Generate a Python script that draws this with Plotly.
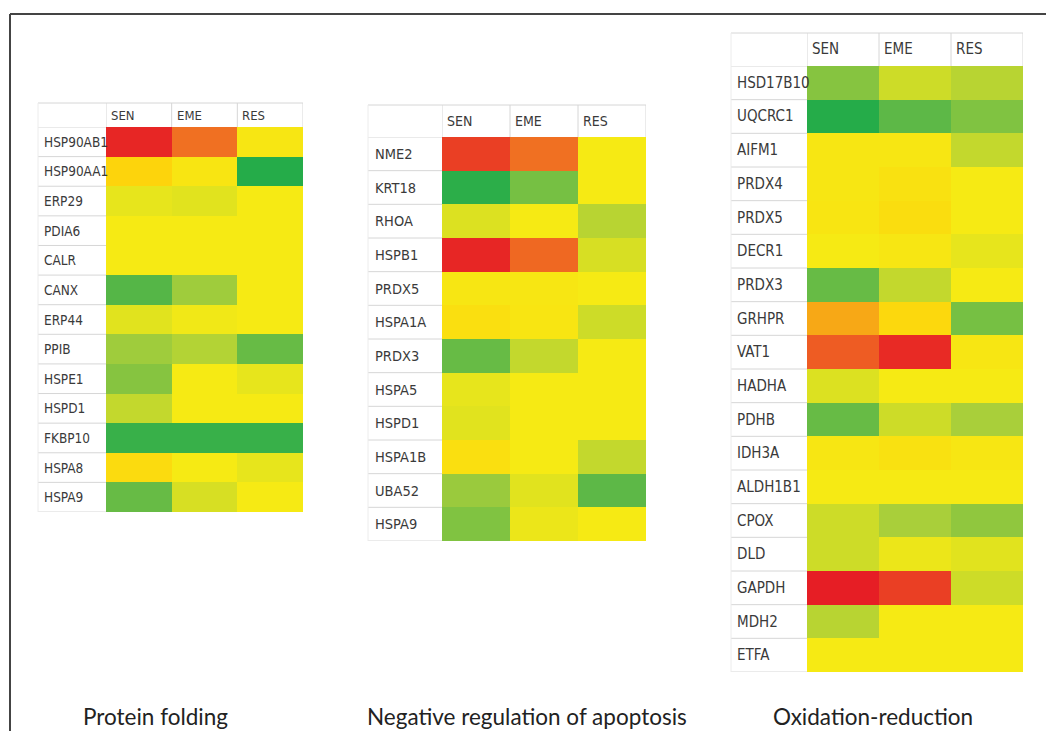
import plotly.graph_objects as go

# Canvas size in pixels
W, H = 1046, 731

# Expression columns
conditions = ["SEN", "EME", "RES"]

# Protein folding
pf_genes = ["HSP90AB1", "HSP90AA1", "ERP29", "PDIA6", "CALR", "CANX", "ERP44",
            "PPIB", "HSPE1", "HSPD1", "FKBP10", "HSPA8", "HSPA9"]
pf_values = [
    [0.98, 0.80, 0.52],
    [0.62, 0.53, 0.05],
    [0.47, 0.46, 0.50],
    [0.50, 0.50, 0.50],
    [0.50, 0.50, 0.50],
    [0.18, 0.33, 0.50],
    [0.46, 0.49, 0.50],
    [0.33, 0.37, 0.22],
    [0.28, 0.50, 0.47],
    [0.40, 0.50, 0.50],
    [0.10, 0.10, 0.10],
    [0.58, 0.50, 0.47],
    [0.22, 0.44, 0.50],
]

# Negative regulation of apoptosis
nra_genes = ["NME2", "KRT18", "RHOA", "HSPB1", "PRDX5", "HSPA1A", "PRDX3",
             "HSPA5", "HSPD1", "HSPA1B", "UBA52", "HSPA9"]
nra_values = [
    [0.92, 0.80, 0.50],
    [0.07, 0.25, 0.50],
    [0.45, 0.50, 0.38],
    [0.98, 0.82, 0.44],
    [0.52, 0.52, 0.50],
    [0.56, 0.53, 0.42],
    [0.22, 0.40, 0.50],
    [0.47, 0.50, 0.50],
    [0.46, 0.50, 0.50],
    [0.56, 0.50, 0.40],
    [0.32, 0.46, 0.20],
    [0.27, 0.48, 0.50],
]

# Oxidation-reduction
ox_genes = ["HSD17B10", "UQCRC1", "AIFM1", "PRDX4", "PRDX5", "DECR1", "PRDX3",
            "GRHPR", "VAT1", "HADHA", "PDHB", "IDH3A", "ALDH1B1", "CPOX", "DLD",
            "GAPDH", "MDH2", "ETFA"]
ox_values = [
    [0.28, 0.42, 0.38],
    [0.05, 0.20, 0.27],
    [0.52, 0.52, 0.40],
    [0.52, 0.55, 0.50],
    [0.53, 0.57, 0.50],
    [0.50, 0.52, 0.47],
    [0.22, 0.40, 0.50],
    [0.70, 0.60, 0.25],
    [0.85, 0.97, 0.52],
    [0.45, 0.50, 0.50],
    [0.22, 0.42, 0.35],
    [0.52, 0.55, 0.52],
    [0.50, 0.50, 0.50],
    [0.42, 0.35, 0.30],
    [0.42, 0.48, 0.46],
    [1.00, 0.92, 0.42],
    [0.38, 0.50, 0.50],
    [0.50, 0.50, 0.50],
]

panel_titles = ["Protein folding", "Negative regulation of apoptosis", "Oxidation-reduction"]

# Green -> yellow -> red
colorscale = [
    [0.00, "#12A84A"],
    [0.20, "#5DB847"],
    [0.35, "#A9CF3A"],
    [0.50, "#F6EA14"],
    [0.62, "#FDD40C"],
    [0.80, "#F07022"],
    [1.00, "#E61E25"],
]

# Table geometry in pixels
panels = [
    dict(genes=pf_genes, values=pf_values, title=panel_titles[0],
         left=38, label_x=42, cell_l=106, cell_r=303, head_t=103, cell_t=127, cell_b=512,
         title_x=155, fsize=13.5, hsize=13),
    dict(genes=nra_genes, values=nra_values, title=panel_titles[1],
         left=368, label_x=373, cell_l=442, cell_r=646, head_t=105, cell_t=137, cell_b=541,
         title_x=527, fsize=14.5, hsize=14),
    dict(genes=ox_genes, values=ox_values, title=panel_titles[2],
         left=731, label_x=735, cell_l=807, cell_r=1023, head_t=33, cell_t=66, cell_b=672,
         title_x=873, fsize=15, hsize=15),
]


def px(x):
    return x / W


def py(y):
    return 1 - y / H


LABEL_FONT = "Liberation Sans Narrow, Arial Narrow, DejaVu Sans Condensed, sans-serif"
GRID = "#d6d6d6"

fig = go.Figure()
shapes = []
annotations = []

for i, p in enumerate(panels, start=1):
    sfx = "" if i == 1 else str(i)
    xa, ya = "x" + sfx, "y" + sfx
    n = len(p["genes"])

    fig.add_trace(go.Heatmap(
        z=p["values"], x=conditions, y=p["genes"],
        colorscale=colorscale, zmin=0, zmax=1, showscale=False,
        xaxis=xa, yaxis=ya, hoverinfo="x+y+z",
    ))

    fig.update_layout(**{
        "xaxis" + sfx: dict(domain=[px(p["cell_l"]), px(p["cell_r"])],
                            range=[-0.5, 2.5], visible=False, anchor=ya, fixedrange=True),
        "yaxis" + sfx: dict(domain=[py(p["cell_b"]), py(p["cell_t"])],
                            range=[n - 0.5, -0.5], visible=False, anchor=xa, fixedrange=True),
    })

    # Row separators in the label column
    for r in range(n + 1):
        shapes.append(dict(type="line", xref="paper", yref=ya,
                           x0=px(p["left"]), x1=px(p["cell_l"]),
                           y0=r - 0.5, y1=r - 0.5,
                           line=dict(color=GRID, width=1)))
    # Header outline and column dividers
    shapes.append(dict(type="line", xref="paper", yref="paper",
                       x0=px(p["left"]), x1=px(p["cell_r"]),
                       y0=py(p["head_t"]), y1=py(p["head_t"]),
                       line=dict(color=GRID, width=1)))
    for c in range(4):
        shapes.append(dict(type="line", xref=xa, yref="paper",
                           x0=c - 0.5, x1=c - 0.5,
                           y0=py(p["head_t"]), y1=py(p["cell_t"]),
                           line=dict(color=GRID, width=1)))
    shapes.append(dict(type="line", xref="paper", yref="paper",
                       x0=px(p["left"]), x1=px(p["left"]),
                       y0=py(p["head_t"]), y1=py(p["cell_b"]),
                       line=dict(color="#ececec", width=1)))

    # Gene labels
    for g in p["genes"]:
        annotations.append(dict(xref="paper", yref=ya, x=px(p["label_x"]), y=g,
                                text=g, showarrow=False, xanchor="left", yanchor="middle",
                                font=dict(family=LABEL_FONT, size=p["fsize"], color="#3a3a3a")))
    # Column headers
    for c in conditions:
        annotations.append(dict(xref=xa, yref="paper", x=c,
                                y=py((p["head_t"] + p["cell_t"]) / 2),
                                text=c, showarrow=False, xanchor="left", yanchor="middle",
                                xshift=-(p["cell_r"] - p["cell_l"]) / 6 + 3,
                                font=dict(family=LABEL_FONT, size=p["hsize"], color="#3a3a3a")))
    # Panel title
    annotations.append(dict(xref="paper", yref="paper", x=px(p["title_x"]), y=py(716),
                            text=p["title"], showarrow=False, xanchor="center", yanchor="middle",
                            font=dict(family="Lato, Open Sans, sans-serif", size=22.5, color="#222222")))

# Frame lines along the top and left
shapes.append(dict(type="line", xref="paper", yref="paper", x0=px(10), x1=1.0,
                   y0=py(14), y1=py(14), line=dict(color="#444444", width=2)))
shapes.append(dict(type="line", xref="paper", yref="paper", x0=px(10), x1=px(10),
                   y0=py(14), y1=0.0, line=dict(color="#444444", width=2)))

fig.update_layout(
    width=W, height=H,
    margin=dict(l=0, r=0, t=0, b=0),
    paper_bgcolor="white", plot_bgcolor="white",
    shapes=shapes, annotations=annotations,
    showlegend=False,
)

fig.write_html("out.html")
